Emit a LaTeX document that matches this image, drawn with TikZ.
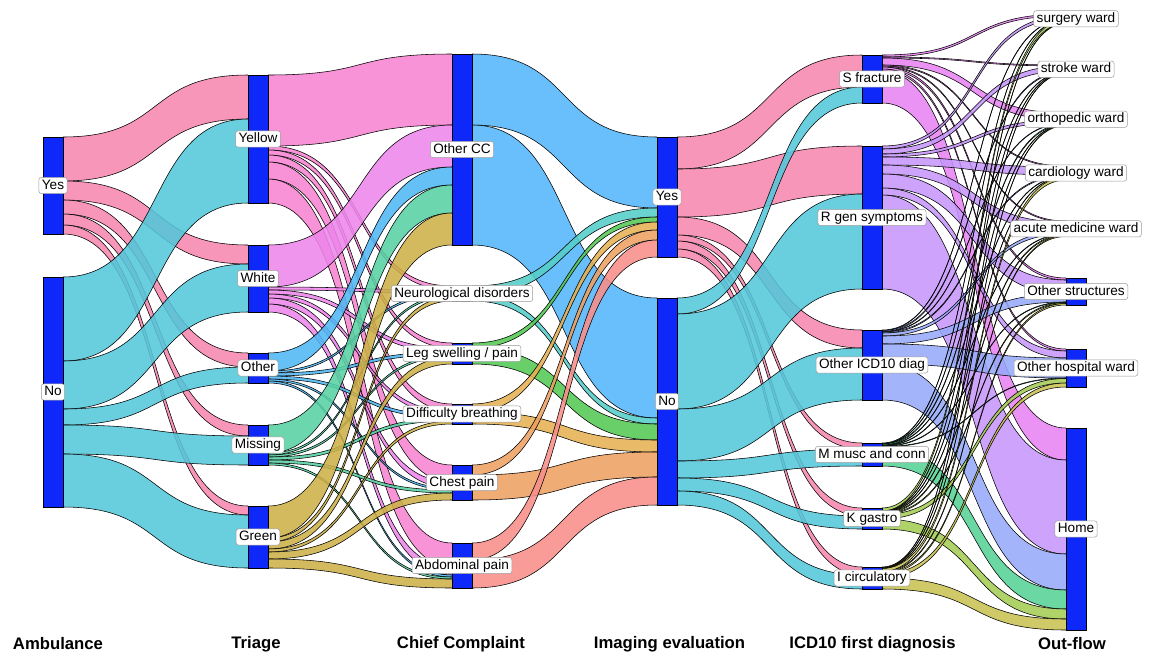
\documentclass[tikz,border=0pt]{standalone}
\usepackage{fontspec}
\setmainfont{Liberation Sans}
\definecolor{barblue}{RGB}{14,40,250}
\definecolor{cAyes}{RGB}{246,136,174}
\definecolor{cAno}{RGB}{84,199,218}
\definecolor{cYel}{RGB}{246,132,208}
\definecolor{cWhi}{RGB}{238,134,236}
\definecolor{cOth}{RGB}{80,184,244}
\definecolor{cMis}{RGB}{88,210,164}
\definecolor{cGre}{RGB}{205,176,72}
\definecolor{cOcc}{RGB}{84,182,250}
\definecolor{cNeu}{RGB}{84,206,200}
\definecolor{cLeg}{RGB}{84,200,84}
\definecolor{cDif}{RGB}{230,176,82}
\definecolor{cChe}{RGB}{238,160,98}
\definecolor{cAbd}{RGB}{248,142,138}
\definecolor{cSf}{RGB}{232,132,242}
\definecolor{cRg}{RGB}{198,150,250}
\definecolor{cOi}{RGB}{150,170,250}
\definecolor{cMm}{RGB}{86,210,150}
\definecolor{cKg}{RGB}{164,204,84}
\definecolor{cIc}{RGB}{200,194,82}
\newcommand\lblfont{\fontsize{13.6}{16}\selectfont}
\newcommand\ttlfont{\fontsize{16.7}{20}\selectfont\bfseries}
\newcommand\defbar[4]{%
 \expandafter\xdef\csname bx@#1\endcsname{#2}%
 \expandafter\xdef\csname bt@#1\endcsname{#3}%
 \expandafter\xdef\csname bh@#1\endcsname{#4}%
 \expandafter\xdef\csname bo@#1\endcsname{#3}%
 \expandafter\xdef\csname bi@#1\endcsname{#3}}
\newcommand\flw[4]{%
 \pgfmathsetmacro\fxa{\csname bx@#1\endcsname+20}%
 \pgfmathsetmacro\fxb{\csname bx@#2\endcsname}%
 \pgfmathsetmacro\fya{\csname bo@#1\endcsname}%
 \pgfmathsetmacro\fyb{\csname bi@#2\endcsname}%
 \pgfmathsetmacro\fyc{\fya+#3}%
 \pgfmathsetmacro\fyd{\fyb+#3}%
 \pgfmathsetmacro\fxm{\fxa+0.56*(\fxb-\fxa)}%
 \pgfmathsetmacro\fxn{\fxb-0.56*(\fxb-\fxa)}%
 \fill[#4,fill opacity=.88] (\fxa,\fya) .. controls (\fxm,\fya) and (\fxn,\fyb) .. (\fxb,\fyb) -- (\fxb,\fyd) .. controls (\fxn,\fyd) and (\fxm,\fyc) .. (\fxa,\fyc) -- cycle;
 \draw[flowedge] (\fxa,\fya) .. controls (\fxm,\fya) and (\fxn,\fyb) .. (\fxb,\fyb);
 \draw[flowedge] (\fxa,\fyc) .. controls (\fxm,\fyc) and (\fxn,\fyd) .. (\fxb,\fyd);
 \expandafter\xdef\csname bo@#1\endcsname{\fyc}%
 \expandafter\xdef\csname bi@#2\endcsname{\fyd}}
\newcommand\drawbar[2]{%
 \pgfmathsetmacro\bxx{\csname bx@#1\endcsname}%
 \pgfmathsetmacro\byy{\csname bt@#1\endcsname}%
 \pgfmathsetmacro\bhh{\csname bh@#1\endcsname}%
 \node[barbox,minimum height=\bhh pt,anchor=north west] (#1) at (\bxx,\byy) {};
 \node[lbl] (l#1) at (#1.center) {#2};}
\begin{document}
\begin{tikzpicture}[x=1pt,y=-1pt,
 flowedge/.style={draw=black,line width=0.55pt},
 barbox/.style={draw=black,line width=0.5pt,fill=barblue,minimum width=20pt,inner sep=0pt,outer sep=0pt},
 lbl/.style={draw=black!40,fill=white,rounded corners=2.5pt,font=\lblfont,inner xsep=3pt,inner ysep=1.8pt,text height=10pt,text depth=2.6pt,line width=0.5pt},
 ttl/.style={font=\ttlfont}]
\useasboundingbox (0,0) rectangle (1152,654);
% bars: name, left x, top y, height
\defbar{ayes}{43}{137}{97}
\defbar{ano}{43}{277}{230}
\defbar{tyel}{248}{75}{128}
\defbar{twhi}{248}{245}{67}
\defbar{toth}{248}{353}{30}
\defbar{tmis}{248}{425}{40}
\defbar{tgre}{248}{506}{62}
\defbar{coth}{452}{54}{191}
\defbar{cneu}{452}{286}{15}
\defbar{cleg}{452}{343}{21}
\defbar{cdif}{452}{404}{20}
\defbar{cche}{452}{465}{35}
\defbar{cabd}{452}{543}{45}
\defbar{iyes}{657}{137}{120}
\defbar{ino}{657}{298}{207}
\defbar{dsf}{862}{55}{48}
\defbar{drg}{862}{146}{143}
\defbar{doi}{862}{330}{70}
\defbar{dmm}{862}{443}{23}
\defbar{dkg}{862}{508}{21}
\defbar{dic}{862}{567}{22}
\defbar{osu}{1066}{14}{9.5}
\defbar{ost}{1066}{65}{8.5}
\defbar{oor}{1066}{113}{12.5}
\defbar{oca}{1066}{166}{14}
\defbar{oac}{1066}{221}{15.5}
\defbar{oos}{1066}{278}{27}
\defbar{ohw}{1066}{349}{38}
\defbar{oho}{1066}{428}{202}
% Ambulance -> Triage
\flw{ayes}{tyel}{44}{cAyes}\flw{ayes}{twhi}{19}{cAyes}\flw{ayes}{toth}{14}{cAyes}\flw{ayes}{tmis}{11}{cAyes}\flw{ayes}{tgre}{9}{cAyes}
\flw{ano}{tyel}{84}{cAno}\flw{ano}{twhi}{48}{cAno}\flw{ano}{toth}{16}{cAno}\flw{ano}{tmis}{29}{cAno}\flw{ano}{tgre}{53}{cAno}
% Triage -> Chief complaint
\flw{tyel}{coth}{71}{cYel}\flw{tyel}{cneu}{4}{cYel}\flw{tyel}{cleg}{5}{cYel}\flw{tyel}{cdif}{7}{cYel}\flw{tyel}{cche}{17}{cYel}\flw{tyel}{cabd}{24}{cYel}
\flw{twhi}{coth}{42}{cWhi}\flw{twhi}{cneu}{3}{cWhi}\flw{twhi}{cleg}{4}{cWhi}\flw{twhi}{cdif}{4}{cWhi}\flw{twhi}{cche}{6}{cWhi}\flw{twhi}{cabd}{8}{cWhi}
\flw{toth}{coth}{18}{cOth}\flw{toth}{cneu}{2}{cOth}\flw{toth}{cleg}{3}{cOth}\flw{toth}{cdif}{3}{cOth}\flw{toth}{cche}{2}{cOth}\flw{toth}{cabd}{2}{cOth}
\flw{tmis}{coth}{28}{cMis}\flw{tmis}{cneu}{2}{cMis}\flw{tmis}{cleg}{2}{cMis}\flw{tmis}{cdif}{3}{cMis}\flw{tmis}{cche}{3}{cMis}\flw{tmis}{cabd}{2}{cMis}
\flw{tgre}{coth}{32}{cGre}\flw{tgre}{cneu}{4}{cGre}\flw{tgre}{cleg}{7}{cGre}\flw{tgre}{cdif}{3}{cGre}\flw{tgre}{cche}{7}{cGre}\flw{tgre}{cabd}{9}{cGre}
% Chief complaint -> Imaging
\flw{coth}{iyes}{71}{cOcc}\flw{coth}{ino}{120}{cOcc}
\flw{cneu}{iyes}{9}{cNeu}\flw{cneu}{ino}{6}{cNeu}
\flw{cleg}{iyes}{5}{cLeg}\flw{cleg}{ino}{16}{cLeg}
\flw{cdif}{iyes}{8}{cDif}\flw{cdif}{ino}{12}{cDif}
\flw{cche}{iyes}{10}{cChe}\flw{cche}{ino}{25}{cChe}
\flw{cabd}{iyes}{17}{cAbd}\flw{cabd}{ino}{28}{cAbd}
% Imaging -> ICD10
\flw{iyes}{dsf}{32}{cAyes}\flw{iyes}{drg}{48}{cAyes}\flw{iyes}{doi}{18}{cAyes}\flw{iyes}{dmm}{6}{cAyes}\flw{iyes}{dkg}{8}{cAyes}\flw{iyes}{dic}{8}{cAyes}
\flw{ino}{dsf}{16}{cAno}\flw{ino}{drg}{95}{cAno}\flw{ino}{doi}{52}{cAno}\flw{ino}{dmm}{17}{cAno}\flw{ino}{dkg}{13}{cAno}\flw{ino}{dic}{14}{cAno}
% ICD10 -> Out-flow
\flw{dsf}{osu}{2}{cSf}\flw{dsf}{ost}{1}{cSf}\flw{dsf}{oor}{7}{cSf}\flw{dsf}{oca}{1}{cSf}\flw{dsf}{oac}{1}{cSf}\flw{dsf}{oos}{2}{cSf}\flw{dsf}{ohw}{2}{cSf}\flw{dsf}{oho}{32}{cSf}
\flw{drg}{osu}{3}{cRg}\flw{drg}{ost}{5}{cRg}\flw{drg}{oor}{3}{cRg}\flw{drg}{oca}{8}{cRg}\flw{drg}{oac}{9}{cRg}\flw{drg}{oos}{14}{cRg}\flw{drg}{ohw}{7}{cRg}\flw{drg}{oho}{94}{cRg}
\flw{doi}{osu}{0.5}{cOi}\flw{doi}{ost}{1}{cOi}\flw{doi}{oor}{0.5}{cOi}\flw{doi}{oca}{1}{cOi}\flw{doi}{oac}{3}{cOi}\flw{doi}{oos}{8}{cOi}\flw{doi}{ohw}{20}{cOi}\flw{doi}{oho}{36}{cOi}
\flw{dmm}{osu}{0.5}{cMm}\flw{dmm}{ost}{0.5}{cMm}\flw{dmm}{oor}{1}{cMm}\flw{dmm}{oca}{0.5}{cMm}\flw{dmm}{oac}{0.5}{cMm}\flw{dmm}{oos}{0.5}{cMm}\flw{dmm}{ohw}{0.5}{cMm}\flw{dmm}{oho}{19}{cMm}
\flw{dkg}{osu}{3}{cKg}\flw{dkg}{ost}{0.5}{cKg}\flw{dkg}{oor}{0.5}{cKg}\flw{dkg}{oca}{0.5}{cKg}\flw{dkg}{oac}{1}{cKg}\flw{dkg}{oos}{1}{cKg}\flw{dkg}{ohw}{4.5}{cKg}\flw{dkg}{oho}{10}{cKg}
\flw{dic}{osu}{0.5}{cIc}\flw{dic}{ost}{0.5}{cIc}\flw{dic}{oor}{0.5}{cIc}\flw{dic}{oca}{3}{cIc}\flw{dic}{oac}{1}{cIc}\flw{dic}{oos}{1.5}{cIc}\flw{dic}{ohw}{4}{cIc}\flw{dic}{oho}{11}{cIc}
% bars and labels
\drawbar{ayes}{Yes}\drawbar{ano}{No}
\drawbar{tyel}{Yellow}\drawbar{twhi}{White}\drawbar{toth}{Other}\drawbar{tmis}{Missing}\drawbar{tgre}{Green}
\drawbar{coth}{Other CC}\drawbar{cneu}{Neurological disorders}\drawbar{cleg}{Leg swelling / pain}\drawbar{cdif}{Difficulty breathing}\drawbar{cche}{Chest pain}\drawbar{cabd}{Abdominal pain}
\drawbar{iyes}{Yes}\drawbar{ino}{No}
\drawbar{dsf}{S fracture}\drawbar{drg}{R gen symptoms}\drawbar{doi}{Other ICD10 diag}\drawbar{dmm}{M musc and conn}\drawbar{dkg}{K gastro}\drawbar{dic}{I circulatory}
\drawbar{osu}{surgery ward}\drawbar{ost}{stroke ward}\drawbar{oor}{orthopedic ward}\drawbar{oca}{cardiology ward}\drawbar{oac}{acute medicine ward}\drawbar{oos}{Other structures}\drawbar{ohw}{Other hospital ward}\drawbar{oho}{Home}
% axis titles
\node[ttl] (t1) at (58,644) {Ambulance};
\node[ttl] (t2) at (256,644) {Triage};
\node[ttl] (t3) at (461,644) {Chief Complaint};
\node[ttl] (t4) at (669.5,644) {Imaging evaluation};
\node[ttl] (t5) at (872.5,644) {ICD10 first diagnosis};
\node[ttl] (t6) at (1072,644) {Out-flow};
\end{tikzpicture}
\end{document}
